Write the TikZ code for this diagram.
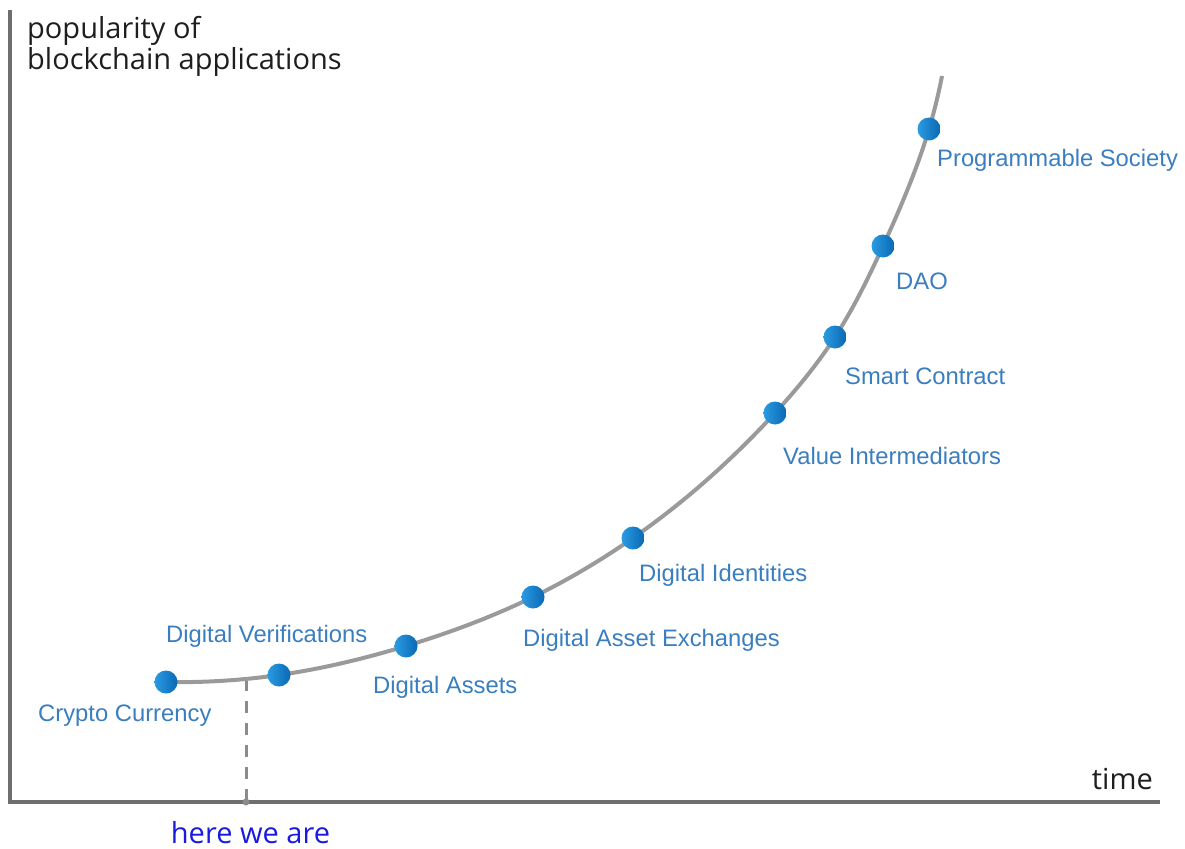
\documentclass[tikz,border=0pt]{standalone}
\usepackage{fontspec}
\usetikzlibrary{hobby}
\setmainfont{Liberation Sans}
\newfontfamily\axisfont{Open Sans}
\begin{document}
\definecolor{axisgray}{HTML}{6E6E6E}
\definecolor{curvegray}{HTML}{9A9A9A}
\definecolor{labelblue}{HTML}{3A7EBF}
\definecolor{dotlight}{HTML}{2A9BE2}
\definecolor{dotdark}{HTML}{0A68B4}
\definecolor{herecolor}{HTML}{1A1ADC}
\definecolor{axistext}{HTML}{1E1E1E}
\begin{tikzpicture}[x=1pt,y=-1pt,
  axisline/.style={draw=axisgray,line width=4pt},
  curveline/.style={draw=curvegray,line width=4pt},
  stage/.style={circle,inner sep=0pt,minimum size=23pt,left color=dotlight,right color=dotdark,draw=none},
  stagelabel/.style={anchor=base west,inner sep=0pt,text=labelblue,font=\fontsize{23.8}{28}\selectfont},
  axislabel/.style={inner sep=0pt,text=axistext,font=\axisfont\fontsize{29}{31}\selectfont},
  marker/.style={draw=curvegray!90!black,line width=3pt,dash pattern=on 12pt off 10pt}]
\useasboundingbox (0,0) rectangle (1185,848);

% axes
\coordinate (origin) at (10,802);
\coordinate (ytop) at (10,10);
\coordinate (xend) at (1160,802);
\draw[axisline] (ytop) -- (origin) -- (xend);

% points along the growth curve
\coordinate (p0) at (166,682);
\coordinate (p1) at (279,675);
\coordinate (p2) at (406,646);
\coordinate (p3) at (533,597);
\coordinate (p4) at (633,538);
\coordinate (p5) at (775,413);
\coordinate (p6) at (835,337);
\coordinate (p7) at (883,246);
\coordinate (p8) at (929,129);
\coordinate (pend) at (942,76);

% "here we are" marker
\coordinate (now) at (246,679);
\coordinate (nowaxis) at (246,802);
\draw[marker] (now) -- (nowaxis);
\fill[curvegray!90!black] (nowaxis) circle (3.5pt);

\draw[curveline] (p0) to[curve through={(p1) (p2) (p3) (p4) (p5) (p6) (p7) (p8)}] (pend);

% stages
\foreach \i in {0,...,8} {\node[stage] (s\i) at (p\i) {};}

\node[stagelabel] (l0) at (38,721) {Crypto Currency};
\node[stagelabel] (l1) at (166,642) {Digital Verifications};
\node[stagelabel] (l2) at (373,693) {Digital Assets};
\node[stagelabel] (l3) at (523,646) {Digital Asset Exchanges};
\node[stagelabel] (l4) at (639,581) {Digital Identities};
\node[stagelabel] (l5) at (783,464) {Value Intermediators};
\node[stagelabel] (l6) at (845,384) {Smart Contract};
\node[stagelabel] (l7) at (896,289) {DAO};
\node[stagelabel] (l8) at (937,166) {Programmable Society};

% axis titles
\node[axislabel,anchor=base west,align=left] (ylab) at (27,70) {popularity of\\blockchain applications};
\node[axislabel,anchor=base east] (xlab) at (1153,789) {time};
\node[axislabel,anchor=base,text=herecolor] (here) at (250.5,843) {here we are};
\end{tikzpicture}
\end{document}
